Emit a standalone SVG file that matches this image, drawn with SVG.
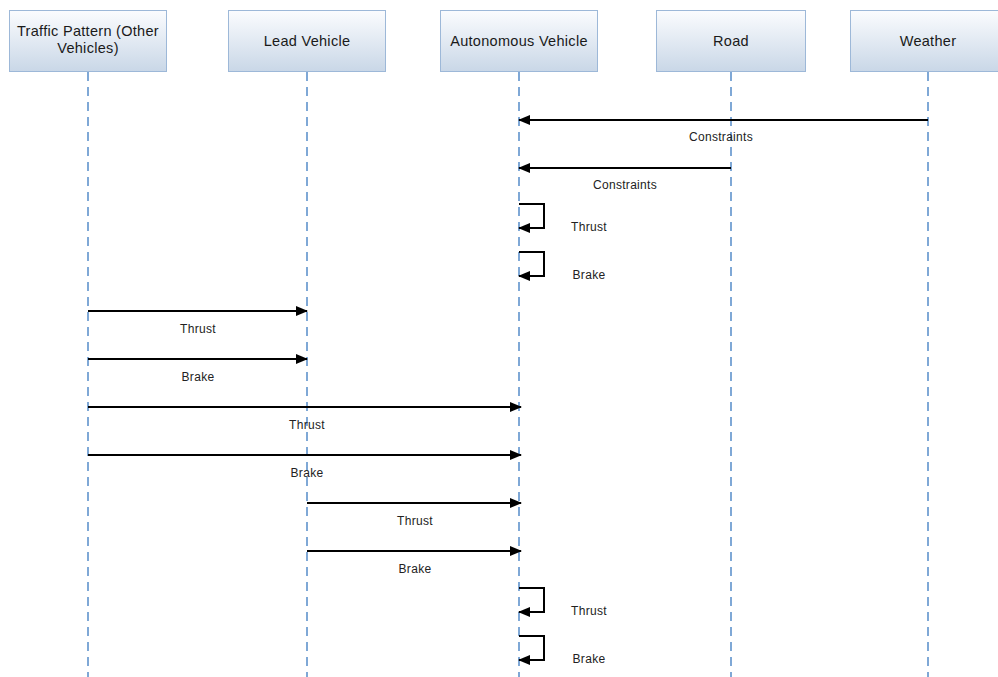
<svg xmlns="http://www.w3.org/2000/svg" width="998" height="677" viewBox="0 0 998 677">
  <defs>
    <linearGradient id="hdr" x1="0" y1="0" x2="0" y2="1">
      <stop offset="0" stop-color="#fbfcfe"/>
      <stop offset="1" stop-color="#c9d7e7"/>
    </linearGradient>
    <marker id="arr" markerWidth="12" markerHeight="10" refX="11" refY="5" orient="auto" markerUnits="userSpaceOnUse">
      <path d="M0,0 L12,5 L0,10 Z" fill="#000"/>
    </marker>
  </defs>
  <style>
    .box { fill: url(#hdr); stroke: #9db8d8; stroke-width: 1; }
    .hdr { font-family: "Liberation Sans", Arial, sans-serif; font-size: 14.5px; letter-spacing: 0.3px; fill: #1a1a1a; text-anchor: middle; }
    .life { stroke: #7fa8d6; stroke-width: 2; stroke-dasharray: 9 6; fill: none; }
    .msg { stroke: #000; stroke-width: 2; fill: none; marker-end: url(#arr); }
    .lbl { font-family: "Liberation Sans", Arial, sans-serif; font-size: 12px; letter-spacing: 0.3px; fill: #222; text-anchor: middle; }
  </style>
  <rect width="998" height="677" fill="#fff"/>

  <!-- lifelines -->
  <g id="lifelines">
    <line class="life" x1="88" y1="72" x2="88" y2="677"/>
    <line class="life" x1="307" y1="72" x2="307" y2="677"/>
    <line class="life" x1="519" y1="72" x2="519" y2="677"/>
    <line class="life" x1="731" y1="72" x2="731" y2="677"/>
    <line class="life" x1="928" y1="72" x2="928" y2="677"/>
  </g>

  <!-- participants -->
  <g id="traffic">
    <rect class="box" x="9.5" y="10.5" width="157" height="61"/>
    <text class="hdr" x="88" y="36">Traffic Pattern (Other</text>
    <text class="hdr" x="88" y="53">Vehicles)</text>
  </g>
  <g id="lead">
    <rect class="box" x="228.5" y="10.5" width="157" height="61"/>
    <text class="hdr" x="307" y="46">Lead Vehicle</text>
  </g>
  <g id="autonomous">
    <rect class="box" x="440.5" y="10.5" width="157" height="61"/>
    <text class="hdr" x="519" y="46">Autonomous Vehicle</text>
  </g>
  <g id="road">
    <rect class="box" x="656.5" y="10.5" width="149" height="61"/>
    <text class="hdr" x="731" y="46">Road</text>
  </g>
  <g id="weather">
    <rect class="box" x="850.5" y="10.5" width="155" height="61"/>
    <text class="hdr" x="928" y="46">Weather</text>
  </g>

  <!-- messages -->
  <g id="connectors">
    <line class="msg" x1="928" y1="120" x2="519" y2="120"/>
    <line class="msg" x1="731" y1="168" x2="519" y2="168"/>
    <polyline class="msg" points="519,204 544,204 544,228 519,228"/>
    <polyline class="msg" points="519,252 544,252 544,276 519,276"/>
    <line class="msg" x1="88" y1="311" x2="307" y2="311"/>
    <line class="msg" x1="88" y1="359" x2="307" y2="359"/>
    <line class="msg" x1="88" y1="407" x2="521" y2="407"/>
    <line class="msg" x1="88" y1="455" x2="521" y2="455"/>
    <line class="msg" x1="307" y1="503" x2="521" y2="503"/>
    <line class="msg" x1="307" y1="551" x2="521" y2="551"/>
    <polyline class="msg" points="519,588 544,588 544,612 519,612"/>
    <polyline class="msg" points="519,636 544,636 544,660 519,660"/>
  </g>

  <!-- message labels -->
  <g id="labels">
    <text class="lbl" x="721" y="141">Constraints</text>
    <text class="lbl" x="625" y="189">Constraints</text>
    <text class="lbl" x="589" y="231">Thrust</text>
    <text class="lbl" x="589" y="279">Brake</text>
    <text class="lbl" x="198" y="333">Thrust</text>
    <text class="lbl" x="198" y="381">Brake</text>
    <text class="lbl" x="307" y="429">Thrust</text>
    <text class="lbl" x="307" y="477">Brake</text>
    <text class="lbl" x="415" y="525">Thrust</text>
    <text class="lbl" x="415" y="573">Brake</text>
    <text class="lbl" x="589" y="615">Thrust</text>
    <text class="lbl" x="589" y="663">Brake</text>
  </g>
</svg>
